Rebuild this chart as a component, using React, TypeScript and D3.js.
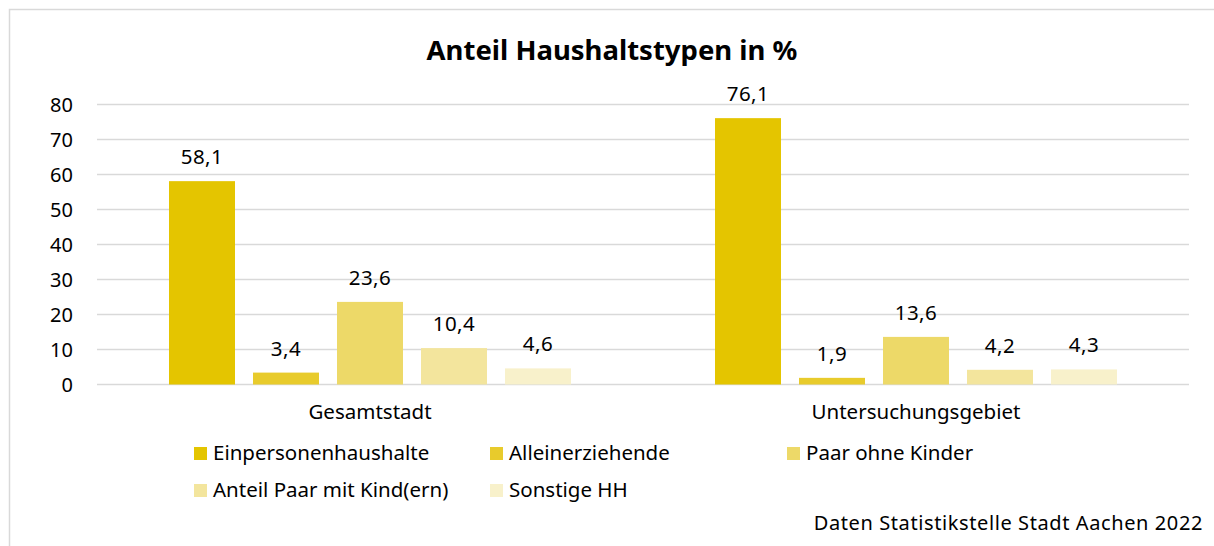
import React, { useEffect, useRef } from "react";
import * as d3 from "d3";

// data
const categories = ["Gesamtstadt", "Untersuchungsgebiet"];
const seriesNames = [
  "Einpersonenhaushalte",
  "Alleinerziehende",
  "Paar ohne Kinder",
  "Anteil Paar mit Kind(ern)",
  "Sonstige HH",
];
const gesamtstadt = [58.1, 3.4, 23.6, 10.4, 4.6];
const untersuchungsgebiet = [76.1, 1.9, 13.6, 4.2, 4.3];
const yTicks = [0, 10, 20, 30, 40, 50, 60, 70, 80];
const colors = ["#E4C500", "#E8CB2C", "#EDD968", "#F3E59D", "#F8F1CB"];

const FONT = "'Noto Sans', sans-serif";

export default function App() {
  const ref = useRef<SVGSVGElement>(null);

  useEffect(() => {
    const width = 1214;
    const height = 546;
    const margin = { top: 104.5, right: 25, bottom: 161.5, left: 97 };
    const innerWidth = width - margin.left - margin.right;
    const innerHeight = height - margin.top - margin.bottom;

    const svg = d3.select(ref.current);
    svg.selectAll("*").remove();

    // frame
    svg.append("rect")
      .attr("x", 9.5).attr("y", 9.5)
      .attr("width", width + 20).attr("height", height + 20)
      .attr("fill", "none").attr("stroke", "#d9d9d9").attr("stroke-width", 1.5);

    // title
    svg.append("text")
      .attr("x", 612).attr("y", 60)
      .attr("text-anchor", "middle")
      .style("font-family", FONT).style("font-size", "27.5px").style("font-weight", "bold")
      .text("Anteil Haushaltstypen in %");

    const g = svg.append("g").attr("transform", `translate(${margin.left},${margin.top})`);

    const x0 = d3.scaleBand().domain(categories).range([0, innerWidth]).paddingInner(0).paddingOuter(0);
    const x1 = d3.scaleBand().domain(seriesNames).range([72, x0.bandwidth() - 72]).paddingInner(18 / 84).paddingOuter(0);
    const y = d3.scaleLinear().domain([0, 80]).range([innerHeight, 0]);

    // gridlines
    g.selectAll(".grid").data(yTicks).join("line")
      .attr("x1", 0).attr("x2", innerWidth)
      .attr("y1", d => y(d)).attr("y2", d => y(d))
      .attr("stroke", "#d9d9d9").attr("stroke-width", 1.5);

    // y labels
    g.selectAll(".ylab").data(yTicks).join("text")
      .attr("x", -24).attr("y", d => y(d))
      .attr("dy", "0.35em")
      .attr("text-anchor", "end")
      .style("font-family", FONT).style("font-size", "20px")
      .text(d => d);

    const rows = [gesamtstadt, untersuchungsgebiet];
    categories.forEach((cat, ci) => {
      const cg = g.append("g").attr("transform", `translate(${x0(cat)},0)`);
      const vals = rows[ci].map((v, i) => ({ key: seriesNames[i], v, i }));
      cg.selectAll("rect").data(vals).join("rect")
        .attr("x", d => x1(d.key)!)
        .attr("y", d => y(d.v))
        .attr("width", x1.bandwidth())
        .attr("height", d => innerHeight - y(d.v))
        .attr("fill", d => colors[d.i]);
      cg.selectAll("text.val").data(vals).join("text")
        .attr("class", "val")
        .attr("x", d => x1(d.key)! + x1.bandwidth() / 2)
        .attr("y", d => y(d.v) - 17)
        .attr("text-anchor", "middle")
        .style("font-family", FONT).style("font-size", "20.5px")
        .style("letter-spacing", "0.5px")
        .text(d => d3.format(".1f")(d.v).replace(".", ","));
      cg.append("text")
        .attr("x", x0.bandwidth() / 2)
        .attr("y", innerHeight + 34)
        .attr("text-anchor", "middle")
        .style("font-family", FONT).style("font-size", "20.5px")
        .text(cat);
    });

    // legend
    const legendPos = [
      [194, 453], [490, 453], [787, 453],
      [194, 490], [490, 490],
    ];
    seriesNames.forEach((name, i) => {
      const [lx, ly] = legendPos[i];
      svg.append("rect")
        .attr("x", lx).attr("y", ly - 6)
        .attr("width", 13).attr("height", 13)
        .attr("fill", colors[i]);
      svg.append("text")
        .attr("x", lx + 19).attr("y", ly)
        .attr("dy", "0.35em")
        .style("font-family", FONT).style("font-size", "20.5px")
        .text(name);
    });

    // source
    svg.append("text")
      .attr("x", 1203).attr("y", 530)
      .attr("text-anchor", "end")
      .style("font-family", FONT).style("font-size", "20px")
      .style("letter-spacing", "0.6px")
      .text("Daten Statistikstelle Stadt Aachen 2022");
  }, []);

  return (
    <svg ref={ref} width={1214} height={546} style={{ position: "absolute", left: 0, top: 0, background: "#fff" }} />
  );
}
